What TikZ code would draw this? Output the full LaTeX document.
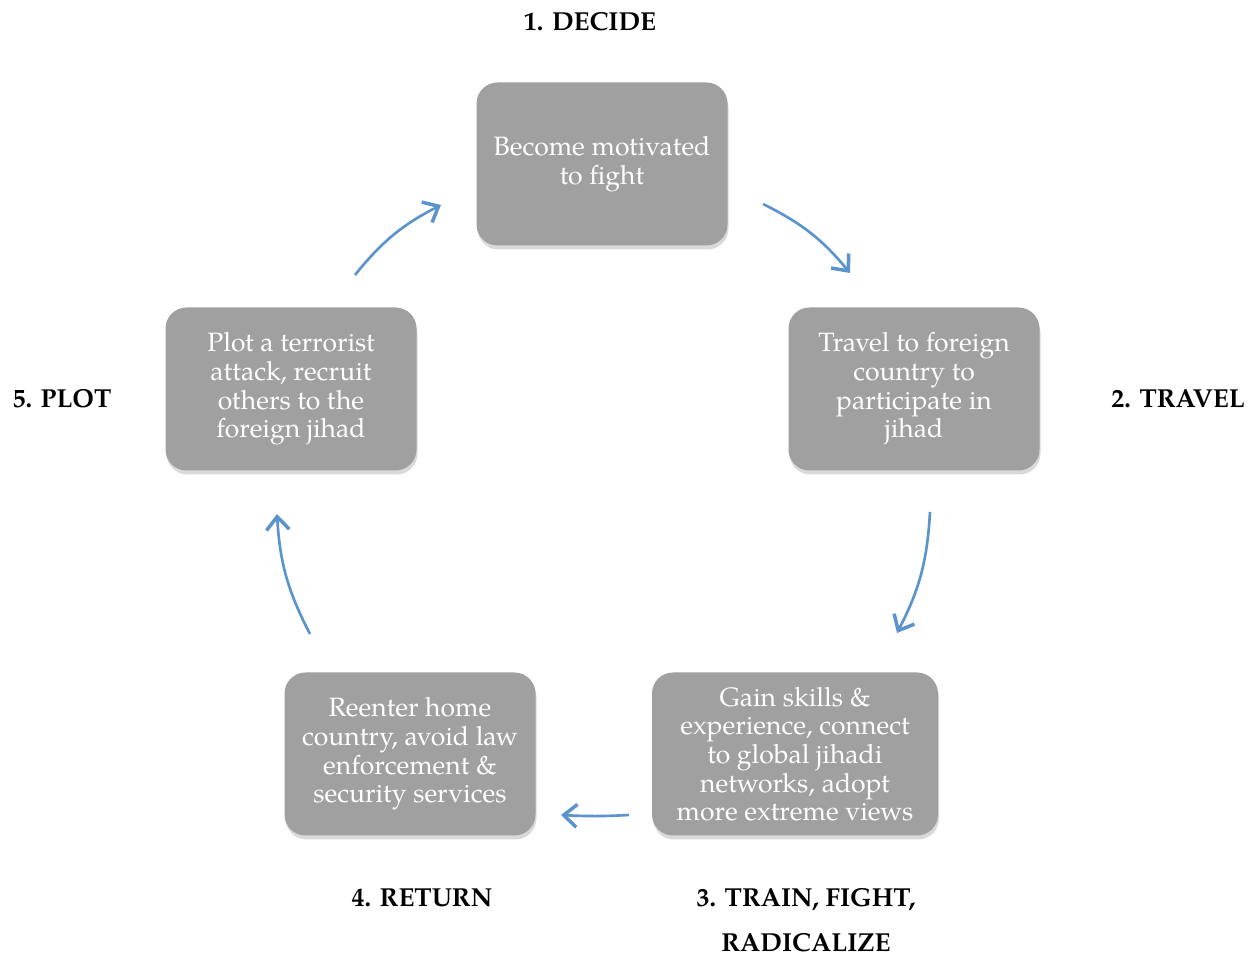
\documentclass[tikz,border=0pt]{standalone}
\usepackage{fontspec}
\setmainfont{TeX Gyre Pagella}
\usetikzlibrary{arrows.meta, shadows}
\definecolor{boxgray}{HTML}{A0A0A0}
\definecolor{arrowblue}{HTML}{5B93CC}

\begin{document}
\begin{tikzpicture}[
    stage/.style={fill=boxgray, rounded corners=0.42cm, text=white, align=center,
        font=\fontsize{15.1}{16.3}\selectfont, minimum width=5.02cm, minimum height=3.26cm,
        drop shadow={opacity=0.3, shadow xshift=0.02cm, shadow yshift=-0.08cm}},
    phase/.style={font=\bfseries\fontsize{14.8}{25.5}\selectfont, align=center},
    flow/.style={-{Straight Barb[length=7.5pt, width=13pt, line width=2pt]}, arrowblue, line width=1.5pt, bend left=12}]
  \useasboundingbox (0,0) rectangle (25.16,-19.12);
  % stage boxes
  \node[stage] (decide) at (12.04,-3.28) {Become motivated\\to fight};
  \node[stage] (travel) at (18.28,-7.78) {Travel to foreign\\country to\\participate in\\jihad};
  \node[stage, minimum width=5.72cm] (train) at (15.90,-15.08) {Gain skills \&\\experience, connect\\to global jihadi\\networks, adopt\\more extreme views};
  \node[stage] (return) at (8.20,-15.08) {Reenter home\\country, avoid law\\enforcement \&\\security services};
  \node[stage] (plot) at (5.82,-7.78) {Plot a terrorist\\attack, recruit\\others to the\\foreign jihad};
  % phase labels
  \node[phase] (l1) at (11.80,-0.44) {1. DECIDE};
  \node[phase] (l2) at (23.56,-7.98) {2. TRAVEL};
  \node[phase] (l3) at (16.12,-18.41) {3. TRAIN, FIGHT,\\RADICALIZE};
  \node[phase] (l4) at (8.44,-17.96) {4. RETURN};
  \node[phase] (l5) at (1.24,-7.98) {5. PLOT};
  % arrows
  \coordinate (a1s) at (7.10,-5.50);  \coordinate (a1e) at (8.82,-4.10);
  \coordinate (a2s) at (15.26,-4.08); \coordinate (a2e) at (17.00,-5.46);
  \coordinate (a3s) at (18.60,-10.24); \coordinate (a3e) at (17.94,-12.66);
  \coordinate (a4s) at (12.58,-16.30); \coordinate (a4e) at (11.22,-16.30);
  \coordinate (a5s) at (6.20,-12.68); \coordinate (a5e) at (5.54,-10.28);
  \draw[flow] (a1s) to (a1e);
  \draw[flow] (a2s) to (a2e);
  \draw[flow] (a3s) to (a3e);
  \draw[flow, bend left=3] (a4s) to (a4e);
  \draw[flow] (a5s) to (a5e);
\end{tikzpicture}
\end{document}
